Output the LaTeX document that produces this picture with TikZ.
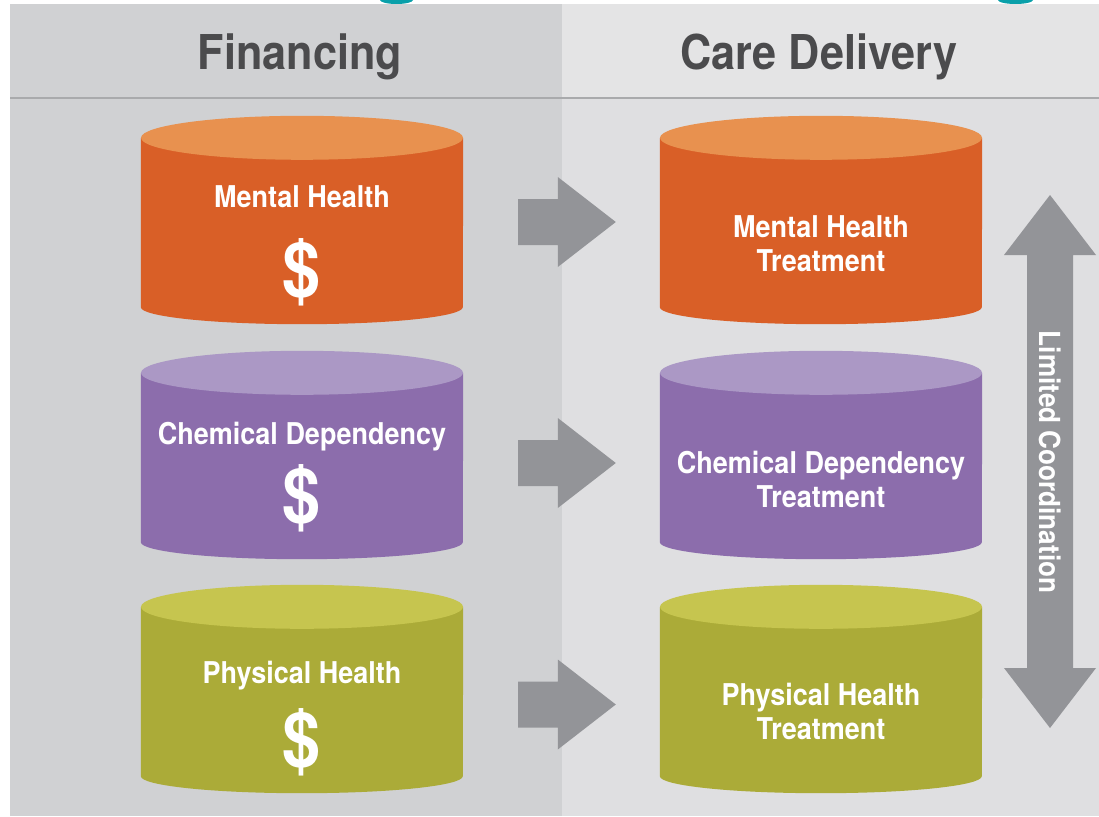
\documentclass[tikz,border=0pt]{standalone}
\usepackage{fontspec}
\setmainfont{TeX Gyre Heros}[FakeStretch=0.9]
\usetikzlibrary{calc}

\definecolor{leftpanel}{HTML}{D0D1D3}
\definecolor{rightpanel}{HTML}{DFDFE1}
\definecolor{righthead}{HTML}{E4E4E5}
\definecolor{rulegray}{HTML}{A9AAAC}
\definecolor{headgray}{HTML}{4B4B4D}
\definecolor{arrowgray}{HTML}{939498}
\definecolor{tabteal}{HTML}{0AA0AA}
\definecolor{mhbody}{HTML}{D95F27}
\definecolor{mhtop}{HTML}{E8914F}
\definecolor{cdbody}{HTML}{8C6DAC}
\definecolor{cdtop}{HTML}{AB98C5}
\definecolor{phbody}{HTML}{ABAB38}
\definecolor{phtop}{HTML}{C6C54F}

% barrel drawn round a drum node: #1 node, #2 side colour, #3 lid colour
\newcommand\drum[3]{%
  \fill[#2] (#1.north west) -- (#1.south west)
    arc[start angle=180,end angle=360,x radius=161pt,y radius=17pt]
    -- (#1.north east) -- cycle;
  \fill[#3] (#1.north) ellipse[x radius=161pt,y radius=22pt];
}

% fat arrow between two drums: #1 from, #2 to, #3 drop below the centres
\newcommand\fatarrow[3]{%
  \path ([xshift=55pt,yshift=-#3pt]#1.east) coordinate (tail)
        ([xshift=-44pt,yshift=-#3pt]#2.west) coordinate (tip);
  \fill[arrowgray] ($(tail)+(0,-23)$) -- ($(tip)+(-58,-23)$) -- ($(tip)+(-58,-45)$)
    -- (tip) -- ($(tip)+(-58,45)$) -- ($(tip)+(-58,23)$) -- ($(tail)+(0,23)$) -- cycle;
}

\begin{document}
\begin{tikzpicture}[x=1pt,y=-1pt]
  \tikzstyle{drum}=[minimum width=322pt,minimum height=169pt,inner sep=0pt]
  \tikzstyle{lbl}=[text=white,font=\bfseries\fontsize{30}{34}\selectfont,align=center,inner sep=0pt]
  \tikzstyle{cash}=[text=white,font=\bfseries\fontsize{76}{76}\selectfont,inner sep=0pt]
  \tikzstyle{head}=[text=headgray,font=\bfseries\fontsize{48}{48}\selectfont,inner sep=0pt,anchor=base]
  \def\xl{302}	% centre of financing column
  \def\xr{821}	% centre of care column
  \useasboundingbox (0,0) rectangle (1099,816);

  % panels and header rule
  \fill[white] (0,0) rectangle (1099,816);
  \fill[leftpanel] (10,4) rectangle (562,816);
  \fill[rightpanel] (562,4) rectangle (1099,816);
  \fill[righthead] (562,4) rectangle (1099,98);
  \draw[rulegray,line width=2pt] (10,98) -- (1099,98);
  \fill[tabteal] (380,0) arc[start angle=180,end angle=360,x radius=16.5pt,y radius=4pt] -- cycle;
  \fill[tabteal] (998,0) arc[start angle=180,end angle=360,x radius=17.5pt,y radius=4pt] -- cycle;

  \node[head] (fin) at (300,70) {Financing};
  \node[head] (care) at (819,70) {Care Delivery};

  % the six drums
  \node[drum] (mhFund) at (\xl,222.5) {};
  \node[drum] (cdFund) at (\xl,457.5) {};
  \node[drum] (phFund) at (\xl,691.5) {};
  \node[drum] (mhCare) at (\xr,222.5) {};
  \node[drum] (cdCare) at (\xr,457.5) {};
  \node[drum] (phCare) at (\xr,691.5) {};
  \drum{mhFund}{mhbody}{mhtop}
  \drum{cdFund}{cdbody}{cdtop}
  \drum{phFund}{phbody}{phtop}
  \drum{mhCare}{mhbody}{mhtop}
  \drum{cdCare}{cdbody}{cdtop}
  \drum{phCare}{phbody}{phtop}

  \node[lbl,anchor=base] (mhName) at (\xl,207) {Mental Health};
  \node[cash] (mhCash) at (\xl,272) {\$};
  \node[lbl,anchor=base] (cdName) at (\xl,444) {Chemical Dependency};
  \node[cash] (cdCash) at (\xl,498) {\$};
  \node[lbl,anchor=base] (phName) at (\xl,683) {Physical Health};
  \node[cash] (phCash) at (\xl,742) {\$};

  \node[lbl] (mhTreat) at (\xr,244) {Mental Health\\Treatment};
  \node[lbl] (cdTreat) at (\xr,479) {Chemical Dependency\\Treatment};
  \node[lbl] (phTreat) at (\xr,711) {Physical Health\\Treatment};

  % money flows to care
  \fatarrow{mhFund}{mhCare}{-0.5}
  \fatarrow{cdFund}{cdCare}{5.5}
  \fatarrow{phFund}{phCare}{13}

  % two-way arrow along the care column
  \coordinate (up) at (1050,195);
  \coordinate (down) at (1050,728);
  \fill[arrowgray] (up) -- ($(up)+(46,60)$) -- ($(up)+(23,60)$) -- ($(down)+(23,-60)$)
    -- ($(down)+(46,-60)$) -- (down) -- ($(down)+(-46,-60)$) -- ($(down)+(-23,-60)$)
    -- ($(up)+(-23,60)$) -- ($(up)+(-46,60)$) -- cycle;
  \node[text=white,font=\bfseries\fontsize{29}{29}\selectfont,rotate=-90,inner sep=0pt]
    (coord) at (1050,462) {Limited Coordination};
\end{tikzpicture}
\end{document}
